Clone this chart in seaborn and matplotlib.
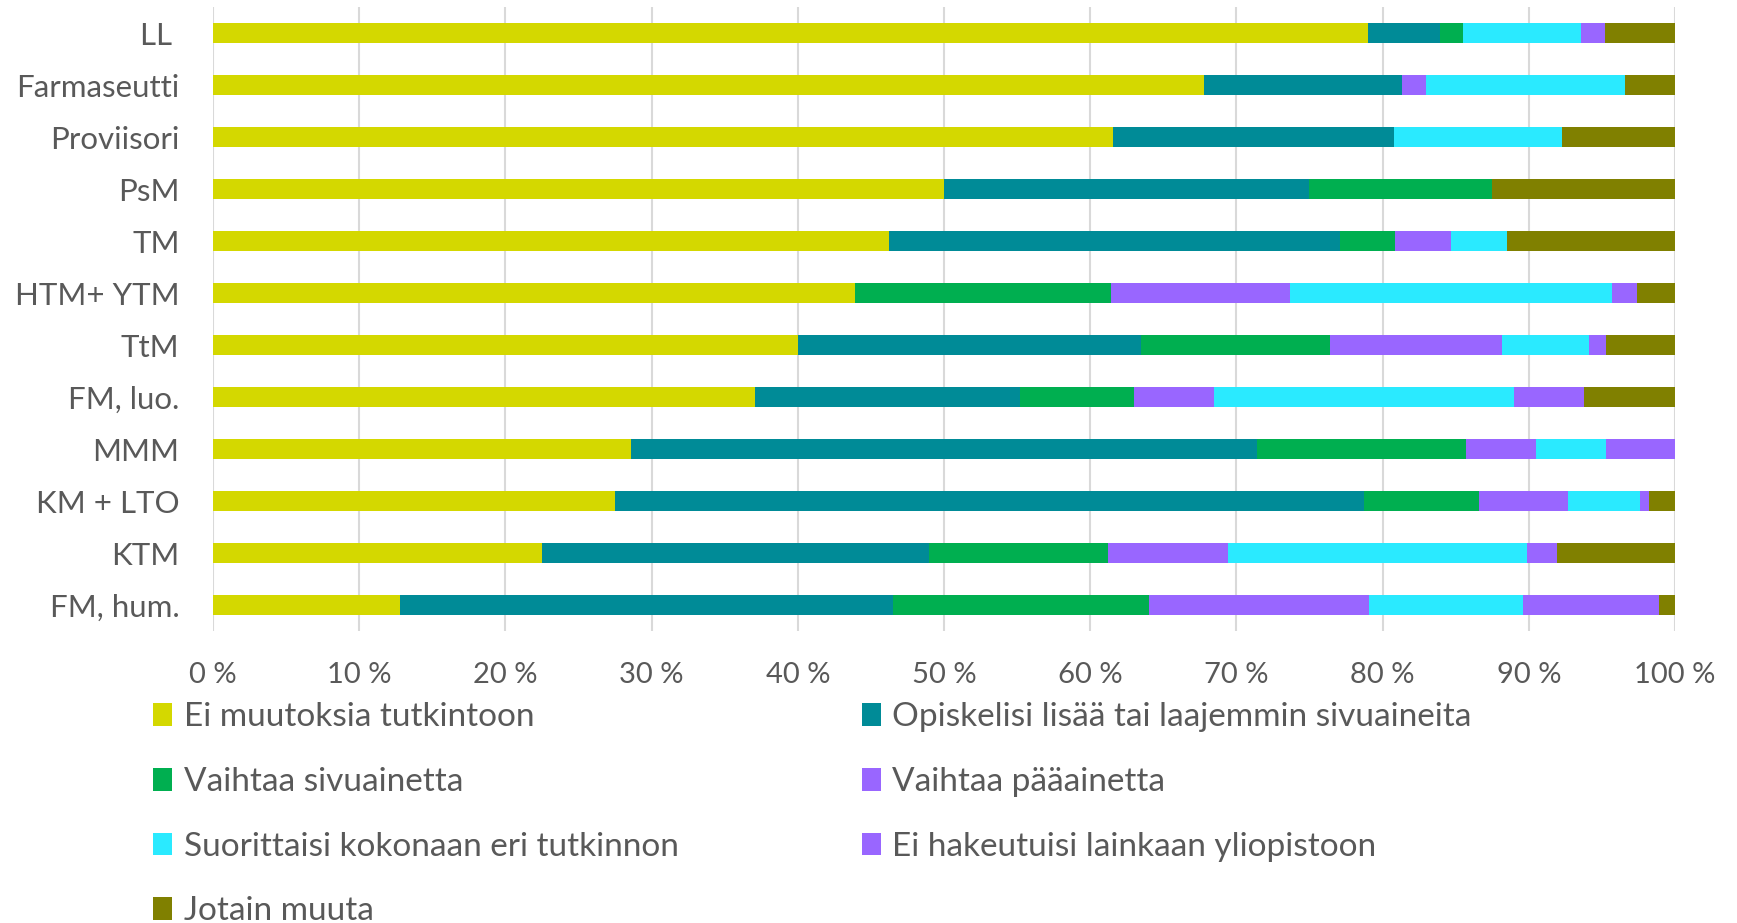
import numpy as np
import pandas as pd
import matplotlib
matplotlib.use('Agg')
import matplotlib.pyplot as plt
from matplotlib.patches import Patch
import seaborn as sns

# Kategoriat ylhäältä alas
categories = ['LL ', 'Farmaseutti', 'Proviisori', 'PsM', 'TM', 'HTM+ YTM', 'TtM',
              'FM, luo.', 'MMM', 'KM + LTO', 'KTM', 'FM, hum.']

series_names = ['Ei muutoksia tutkintoon',
                'Opiskelisi lisää tai laajemmin sivuaineita',
                'Vaihtaa sivuainetta',
                'Vaihtaa pääainetta',
                'Suorittaisi kokonaan eri tutkinnon',
                'Ei hakeutuisi lainkaan yliopistoon',
                'Jotain muuta']

# Osuudet (%) luettuna kuvasta
ei_muutoksia = [79.0, 67.8, 61.5, 50.0, 46.2, 43.9, 40.0, 37.1, 28.6, 27.5, 22.5, 12.8]
opiskelisi   = [4.9, 13.5, 19.2, 25.0, 30.8, 0.0, 23.5, 18.1, 42.9, 51.2, 26.5, 33.7]
sivuaine     = [1.6, 0.0, 0.0, 12.5, 3.8, 17.5, 12.9, 7.8, 14.3, 7.9, 12.2, 17.5]
paaaine      = [0.0, 1.7, 0.0, 0.0, 3.8, 12.3, 11.8, 5.5, 4.8, 6.1, 8.2, 15.1]
eri_tutkinto = [8.1, 13.6, 11.5, 0.0, 3.8, 22.0, 5.9, 20.5, 4.8, 4.9, 20.5, 10.5]
ei_hakeutuisi = [1.6, 0.0, 0.0, 0.0, 0.0, 1.7, 1.2, 4.8, 4.7, 0.6, 2.0, 9.3]
jotain_muuta = [4.8, 3.4, 7.7, 12.5, 11.5, 2.6, 4.7, 6.2, 0.0, 1.8, 8.1, 1.1]

colors = ['#D4D800', '#008B97', '#00AF50', '#9966FF', '#2AEAFF', '#9966FF', '#808000']

df = pd.DataFrame({
    'kategoria': categories,
    series_names[0]: ei_muutoksia,
    series_names[1]: opiskelisi,
    series_names[2]: sivuaine,
    series_names[3]: paaaine,
    series_names[4]: eri_tutkinto,
    series_names[5]: ei_hakeutuisi,
    series_names[6]: jotain_muuta,
})

# kumulatiivinen summa -> pinotut palkit päällekkäin piirrettynä
cum = df[series_names].cumsum(axis=1)
total = cum[series_names[-1]]
cum = cum.div(total, axis=0) * 100
cum['kategoria'] = df['kategoria']

sns.set_theme(style='white')
plt.rcParams['font.family'] = ['Lato', 'DejaVu Sans']
text_color = '#595959'

fig = plt.figure(figsize=(17.37, 9.23), dpi=100)
ax = fig.add_axes([0.1226, 0.3163, 0.8417, 0.6761])

for name, color in reversed(list(zip(series_names, colors))):
    sns.barplot(data=cum, x=name, y='kategoria', order=categories, color=color,
                width=0.4, saturation=1, linewidth=0, ax=ax, zorder=3)

ax.set_xlim(0, 100)
ax.set_ylim(len(categories) - 0.5, -0.5)
ax.set_xticks(np.arange(0, 101, 10))
ax.set_xticklabels([f'{v} %' for v in range(0, 101, 10)])
ax.xaxis.grid(True, color='#d9d9d9', linewidth=1.5, zorder=0)
ax.yaxis.grid(False)
ax.set_axisbelow(True)
for s in ax.spines.values():
    s.set_visible(False)
ax.set_xlabel('')
ax.set_ylabel('')
ax.tick_params(axis='x', length=0, pad=22, labelsize=21, labelcolor=text_color)
ax.tick_params(axis='y', length=0, pad=24, labelsize=22.5, labelcolor=text_color)

handles = [Patch(facecolor=c, edgecolor='none') for c in colors]
order = [0, 2, 4, 6, 1, 3, 5]
leg = fig.legend([handles[i] for i in order], [series_names[i] for i in order],
                 loc='upper left', bbox_to_anchor=(0.088, 0.239), ncol=2,
                 frameon=False, fontsize=24, borderpad=0, borderaxespad=0,
                 handlelength=0.57, handleheight=0.66, handletextpad=0.35,
                 labelspacing=1.04, columnspacing=5.5)
for t in leg.get_texts():
    t.set_color(text_color)

fig.savefig('out.png', dpi=100)
